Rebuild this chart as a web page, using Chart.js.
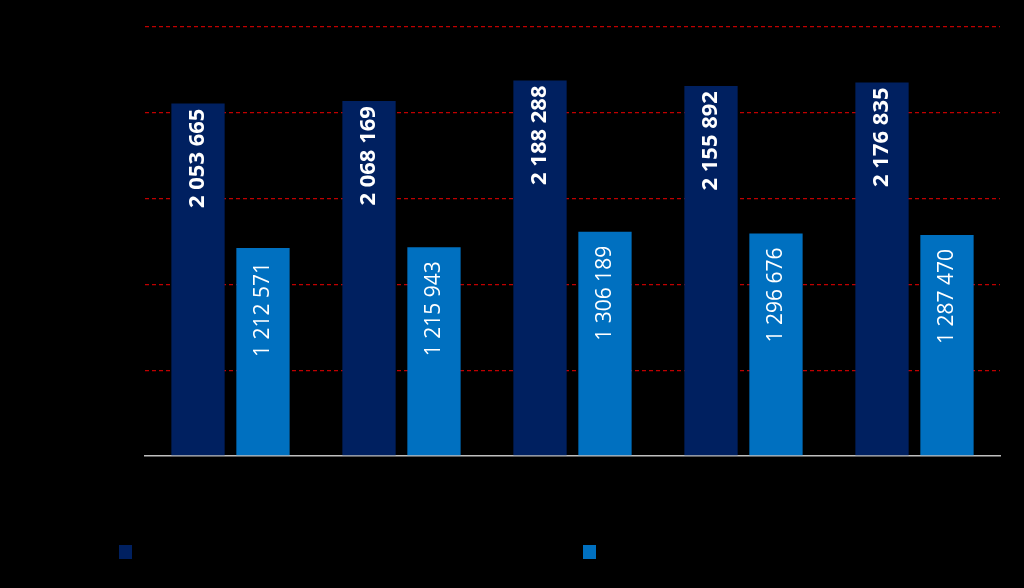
<!DOCTYPE html>
<html>
<head>
<meta charset="utf-8">
<script src="https://cdn.jsdelivr.net/npm/chart.js@4"></script>
<style>
  html, body { margin: 0; padding: 0; background: #000; }
  #wrap { position: relative; width: 1024px; height: 588px; }
  .legend-box { position: absolute; width: 13px; height: 14px; }
</style>
</head>
<body>
<div id="wrap">
  <canvas id="chart" width="1024" height="588"></canvas>
  <div class="legend-box" style="left:119px;top:545px;background:#002060"></div>
  <div class="legend-box" style="left:583px;top:545px;background:#0070c0"></div>
</div>
<script>
const categories = ['', '', '', '', ''];
const seriesA = [2053665, 2068169, 2188288, 2155892, 2176835];
const seriesB = [1212571, 1215943, 1306189, 1296676, 1287470];
const yTicks = [0, 500000, 1000000, 1500000, 2000000, 2500000];

function fmt(v) {
  return v.toString().replace(/\B(?=(\d{3})+(?!\d))/g, ' ');
}

// vertical value labels inside the bars
const barLabels = {
  id: 'barLabels',
  afterDatasetsDraw(chart) {
    const ctx = chart.ctx;
    chart.data.datasets.forEach((ds, di) => {
      const meta = chart.getDatasetMeta(di);
      const bold = di === 0;
      const inset = bold ? 5 : 14;
      meta.data.forEach((bar, i) => {
        ctx.save();
        ctx.translate(bar.x, bar.y + inset);
        ctx.rotate(-Math.PI / 2);
        ctx.fillStyle = '#ffffff';
        ctx.font = (bold ? 'bold 22px' : '21px') + ' "Open Sans", sans-serif';
        ctx.textAlign = 'right';
        ctx.textBaseline = 'middle';
        ctx.fillText(fmt(ds.data[i]), 0, 0);
        ctx.restore();
      });
    });
  }
};

new Chart(document.getElementById('chart'), {
  type: 'bar',
  data: {
    labels: categories,
    datasets: [
      { data: seriesA, backgroundColor: '#002060', categoryPercentage: 0.76, barPercentage: 0.82 },
      { data: seriesB, backgroundColor: '#0070c0', categoryPercentage: 0.76, barPercentage: 0.82 }
    ]
  },
  options: {
    responsive: false,
    animation: false,
    layout: { padding: { left: 145, right: 24, top: 27, bottom: 124 } },
    plugins: {
      legend: { display: false },
      tooltip: { enabled: false }
    },
    scales: {
      x: {
        grid: { display: false },
        border: { color: '#bfbfbf', width: 1.5 },
        ticks: { display: false }
      },
      y: {
        min: 0,
        max: 2500000,
        afterBuildTicks: (axis) => { axis.ticks = yTicks.map(v => ({ value: v })); },
        grid: {
          drawTicks: false,
          color: (c) => c.tick && c.tick.value === 0 ? 'rgba(0,0,0,0)' : '#c00000',
          lineWidth: 1.3
        },
        border: { display: false, dash: [4, 3] },
        ticks: { display: false }
      }
    }
  },
  plugins: [barLabels]
});
</script>
</body>
</html>
